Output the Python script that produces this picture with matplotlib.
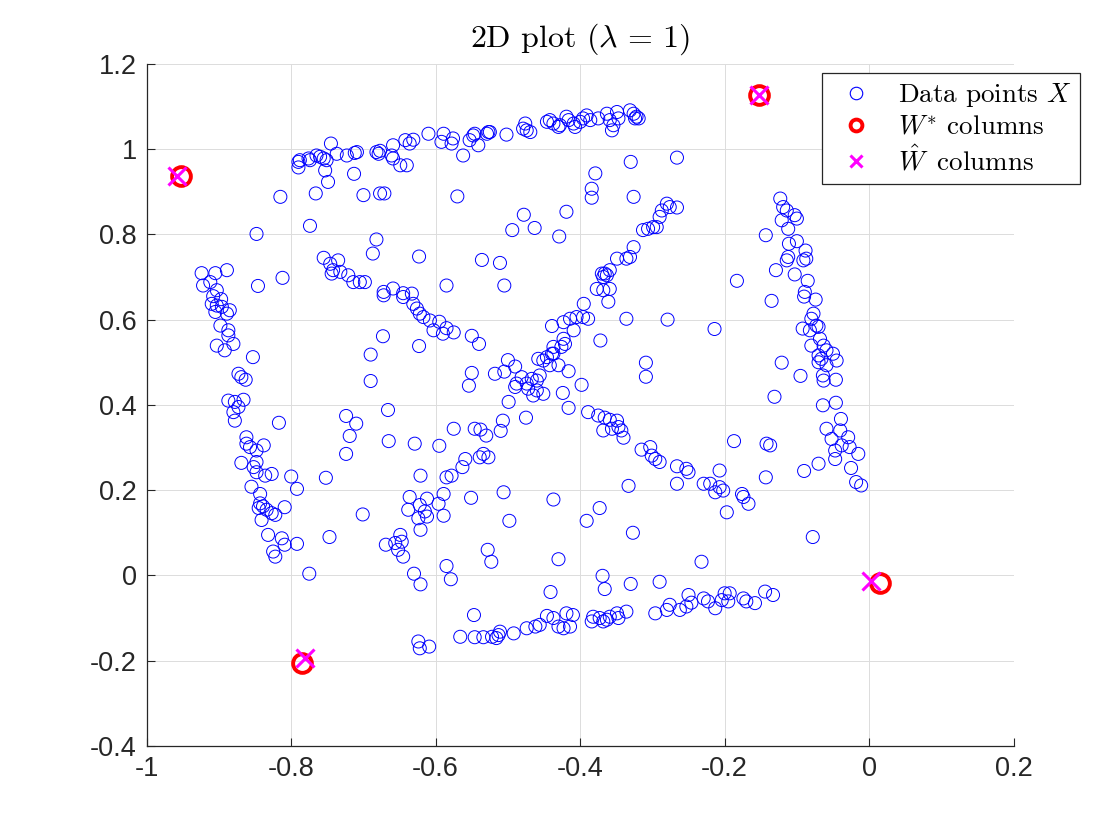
import matplotlib
matplotlib.use("Agg")
import matplotlib.pyplot as plt
from matplotlib.lines import Line2D
from matplotlib.ticker import FuncFormatter, MultipleLocator
import numpy as np

# data points X, grouped by region
top_edge = [
    (-0.61, 1.036), (-0.642, 1.021), (-0.636, 1.013), (-0.631, 1.022), (-0.659, 1.009),
    (-0.682, 0.993), (-0.677, 0.996), (-0.679, 0.989), (-0.661, 0.985), (-0.659, 0.978),
    (-0.649, 0.962), (-0.64, 0.962), (-0.709, 0.993), (-0.712, 0.991), (-0.723, 0.985),
    (-0.737, 0.989), (-0.745, 1.013), (-0.79, 0.97), (-0.788, 0.974), (-0.79, 0.957),
    (-0.776, 0.978), (-0.774, 0.974), (-0.765, 0.985), (-0.76, 0.982), (-0.755, 0.978),
    (-0.751, 0.974), (-0.753, 0.95), (-0.749, 0.923),
    (-0.589, 1.036), (-0.592, 1.017), (-0.576, 1.025), (-0.578, 1.013), (-0.562, 0.985),
    (-0.553, 1.021), (-0.546, 1.036), (-0.541, 1.009), (-0.548, 1.032), (-0.529, 1.036),
    (-0.525, 1.04), (-0.527, 1.04), (-0.502, 1.034), (-0.476, 1.06), (-0.479, 1.048),
    (-0.474, 1.044), (-0.469, 1.04), (-0.446, 1.064), (-0.442, 1.068), (-0.437, 1.06),
    (-0.428, 1.056), (-0.43, 1.052), (-0.419, 1.076), (-0.416, 1.068), (-0.409, 1.06),
    (-0.407, 1.052), (-0.4, 1.064), (-0.396, 1.072), (-0.391, 1.079), (-0.386, 1.068),
    (-0.375, 1.072), (-0.363, 1.083), (-0.359, 1.068), (-0.354, 1.056), (-0.356, 1.044),
    (-0.349, 1.087), (-0.347, 1.072), (-0.331, 1.091), (-0.326, 1.083), (-0.322, 1.076),
    (-0.324, 1.072), (-0.319, 1.072),
]

left_edge = [
    (-0.924, 0.709), (-0.905, 0.709), (-0.889, 0.716), (-0.922, 0.68), (-0.912, 0.688),
    (-0.903, 0.669), (-0.908, 0.655), (-0.897, 0.648), (-0.846, 0.679), (-0.812, 0.698),
    (-0.903, 0.633), (-0.91, 0.637), (-0.896, 0.63), (-0.885, 0.622), (-0.889, 0.614),
    (-0.905, 0.618), (-0.898, 0.586), (-0.887, 0.575), (-0.887, 0.563), (-0.88, 0.543),
    (-0.903, 0.539), (-0.892, 0.528), (-0.853, 0.512), (-0.873, 0.473), (-0.869, 0.465),
    (-0.863, 0.459), (-0.887, 0.41), (-0.878, 0.407), (-0.866, 0.412), (-0.873, 0.395),
    (-0.88, 0.383), (-0.878, 0.363), (-0.862, 0.324), (-0.862, 0.309), (-0.857, 0.301),
    (-0.838, 0.305), (-0.848, 0.293), (-0.869, 0.264), (-0.848, 0.266), (-0.852, 0.254),
    (-0.848, 0.242), (-0.827, 0.238), (-0.836, 0.234), (-0.855, 0.208), (-0.843, 0.191),
    (-0.843, 0.169), (-0.839, 0.162), (-0.845, 0.158), (-0.834, 0.154), (-0.827, 0.146),
    (-0.809, 0.16), (-0.822, 0.142), (-0.841, 0.13), (-0.832, 0.095), (-0.813, 0.087),
    (-0.809, 0.072), (-0.792, 0.074), (-0.825, 0.056), (-0.822, 0.044),
]

inner_left = [
    (-0.815, 0.888), (-0.766, 0.896), (-0.713, 0.942), (-0.7, 0.892), (-0.677, 0.896),
    (-0.671, 0.896), (-0.774, 0.82), (-0.848, 0.801), (-0.682, 0.788), (-0.687, 0.755),
    (-0.623, 0.748), (-0.817, 0.358), (-0.8, 0.232), (-0.792, 0.203), (-0.752, 0.229),
    (-0.724, 0.285), (-0.724, 0.374), (-0.71, 0.356), (-0.719, 0.327), (-0.69, 0.518),
    (-0.673, 0.561), (-0.69, 0.456), (-0.666, 0.388), (-0.665, 0.315), (-0.629, 0.309),
    (-0.623, 0.538), (-0.621, 0.234), (-0.636, 0.184), (-0.612, 0.18), (-0.701, 0.143),
    (-0.747, 0.09), (-0.775, 0.004), (-0.63, 0.004), (-0.621, -0.021),
    (-0.669, 0.072), (-0.656, 0.076), (-0.649, 0.095), (-0.647, 0.079), (-0.652, 0.06),
    (-0.645, 0.044), (-0.638, 0.154), (-0.622, 0.165), (-0.615, 0.15), (-0.624, 0.134),
    (-0.612, 0.138), (-0.621, 0.107),
]

diag_down = [
    (-0.755, 0.745), (-0.735, 0.739), (-0.746, 0.731), (-0.742, 0.716), (-0.744, 0.708),
    (-0.732, 0.712), (-0.721, 0.704), (-0.714, 0.688), (-0.705, 0.688), (-0.698, 0.688),
    (-0.672, 0.665), (-0.659, 0.673), (-0.645, 0.662), (-0.633, 0.661), (-0.672, 0.657),
    (-0.645, 0.653), (-0.631, 0.637), (-0.626, 0.626), (-0.622, 0.614), (-0.617, 0.606),
    (-0.608, 0.598), (-0.603, 0.575), (-0.595, 0.595), (-0.585, 0.58), (-0.575, 0.57),
    (-0.59, 0.567), (-0.55, 0.562), (-0.54, 0.543), (-0.5, 0.505), (-0.49, 0.49),
    (-0.505, 0.478), (-0.518, 0.473),
    (-0.389, 0.383), (-0.375, 0.375), (-0.366, 0.37), (-0.359, 0.365), (-0.349, 0.363),
    (-0.368, 0.34), (-0.356, 0.344), (-0.347, 0.348), (-0.343, 0.34), (-0.34, 0.323),
    (-0.315, 0.295), (-0.303, 0.301), (-0.301, 0.281), (-0.296, 0.273), (-0.29, 0.266),
    (-0.266, 0.256), (-0.253, 0.25), (-0.25, 0.242), (-0.229, 0.215), (-0.22, 0.215),
    (-0.213, 0.195), (-0.207, 0.207), (-0.202, 0.199), (-0.207, 0.246), (-0.197, 0.148),
    (-0.176, 0.191), (-0.174, 0.184), (-0.167, 0.168),
]

middle = [
    (-0.458, 0.508), (-0.451, 0.504), (-0.446, 0.512), (-0.437, 0.52), (-0.442, 0.493),
    (-0.43, 0.493), (-0.416, 0.479), (-0.481, 0.465), (-0.488, 0.45), (-0.49, 0.442),
    (-0.474, 0.45), (-0.467, 0.461), (-0.46, 0.457), (-0.456, 0.469), (-0.472, 0.438),
    (-0.46, 0.434), (-0.465, 0.422), (-0.451, 0.426), (-0.424, 0.428), (-0.398, 0.447),
    (-0.416, 0.393), (-0.499, 0.407), (-0.475, 0.37), (-0.507, 0.363), (-0.51, 0.339),
    (-0.55, 0.475), (-0.554, 0.445), (-0.575, 0.344), (-0.546, 0.344), (-0.538, 0.342),
    (-0.53, 0.328), (-0.595, 0.304), (-0.559, 0.273), (-0.563, 0.254), (-0.539, 0.277),
    (-0.527, 0.277), (-0.534, 0.285), (-0.585, 0.23), (-0.578, 0.234), (-0.589, 0.191),
    (-0.596, 0.168), (-0.589, 0.14), (-0.551, 0.182), (-0.506, 0.195), (-0.437, 0.178),
    (-0.373, 0.158), (-0.391, 0.128), (-0.498, 0.128), (-0.333, 0.21), (-0.266, 0.215),
]

diag_up = [
    (-0.395, 0.637), (-0.361, 0.642), (-0.439, 0.585), (-0.423, 0.594), (-0.414, 0.602),
    (-0.405, 0.606), (-0.396, 0.606), (-0.389, 0.602), (-0.409, 0.575), (-0.336, 0.602),
    (-0.279, 0.6), (-0.214, 0.578), (-0.372, 0.551), (-0.423, 0.555), (-0.421, 0.543),
    (-0.426, 0.536), (-0.437, 0.536), (-0.439, 0.52), (-0.309, 0.499), (-0.309, 0.466),
    (-0.377, 0.672), (-0.368, 0.669), (-0.359, 0.672), (-0.359, 0.716), (-0.366, 0.708),
    (-0.368, 0.7), (-0.37, 0.708), (-0.363, 0.704), (-0.326, 0.77), (-0.331, 0.747),
    (-0.336, 0.743), (-0.349, 0.743), (-0.313, 0.81), (-0.306, 0.813), (-0.299, 0.817),
    (-0.294, 0.817), (-0.29, 0.841), (-0.287, 0.856), (-0.28, 0.872), (-0.276, 0.864),
    (-0.266, 0.863),
]

inner_top = [
    (-0.57, 0.889), (-0.478, 0.846), (-0.494, 0.81), (-0.463, 0.815), (-0.429, 0.795),
    (-0.419, 0.853), (-0.379, 0.943), (-0.384, 0.907), (-0.384, 0.886), (-0.33, 0.97),
    (-0.326, 0.888), (-0.266, 0.98), (-0.536, 0.74), (-0.511, 0.733), (-0.585, 0.68),
    (-0.505, 0.68),
]

right_edge = [
    (-0.123, 0.884), (-0.119, 0.864), (-0.114, 0.856), (-0.103, 0.845), (-0.1, 0.837),
    (-0.121, 0.833), (-0.112, 0.813), (-0.143, 0.798), (-0.111, 0.778), (-0.1, 0.784),
    (-0.088, 0.762), (-0.087, 0.743), (-0.091, 0.739), (-0.112, 0.747), (-0.114, 0.739),
    (-0.129, 0.716), (-0.103, 0.706), (-0.085, 0.691), (-0.183, 0.691), (-0.089, 0.665),
    (-0.135, 0.644), (-0.09, 0.654), (-0.074, 0.647), (-0.077, 0.614), (-0.08, 0.602),
    (-0.073, 0.586), (-0.092, 0.579), (-0.082, 0.575), (-0.07, 0.583), (-0.068, 0.555),
    (-0.08, 0.539), (-0.063, 0.539), (-0.059, 0.528), (-0.05, 0.52), (-0.07, 0.516),
    (-0.066, 0.508), (-0.045, 0.504), (-0.07, 0.5), (-0.059, 0.493), (-0.121, 0.499),
    (-0.095, 0.468), (-0.064, 0.469), (-0.063, 0.457), (-0.046, 0.459), (-0.131, 0.419),
    (-0.064, 0.399), (-0.046, 0.405), (-0.039, 0.367), (-0.059, 0.344), (-0.04, 0.34),
    (-0.052, 0.32), (-0.029, 0.324), (-0.038, 0.305), (-0.027, 0.301), (-0.047, 0.293),
    (-0.015, 0.285), (-0.047, 0.273), (-0.025, 0.252), (-0.018, 0.219), (-0.011, 0.211),
    (-0.07, 0.262), (-0.09, 0.245), (-0.143, 0.23), (-0.142, 0.309), (-0.137, 0.305),
    (-0.187, 0.315),
]

bottom_edge = [
    (-0.624, -0.155), (-0.622, -0.171), (-0.609, -0.167),
    (-0.528, 0.06), (-0.523, 0.032), (-0.585, 0.022), (-0.579, -0.009), (-0.43, 0.038),
    (-0.441, -0.039), (-0.547, -0.093), (-0.369, -0.001), (-0.366, -0.032), (-0.33, -0.02),
    (-0.29, -0.015), (-0.232, 0.032), (-0.327, 0.1), (-0.078, 0.09),
    (-0.566, -0.144), (-0.546, -0.145), (-0.534, -0.145), (-0.522, -0.144), (-0.513, -0.14),
    (-0.511, -0.132), (-0.516, -0.147), (-0.492, -0.136), (-0.474, -0.124), (-0.462, -0.12),
    (-0.456, -0.116), (-0.446, -0.095), (-0.437, -0.1), (-0.43, -0.12), (-0.423, -0.124),
    (-0.414, -0.12), (-0.419, -0.089), (-0.41, -0.093), (-0.382, -0.097), (-0.373, -0.1),
    (-0.363, -0.104), (-0.359, -0.097), (-0.347, -0.1), (-0.349, -0.089), (-0.336, -0.085),
    (-0.384, -0.108), (-0.368, -0.108), (-0.296, -0.089), (-0.28, -0.081), (-0.276, -0.069),
    (-0.262, -0.081), (-0.253, -0.073), (-0.25, -0.046), (-0.246, -0.064), (-0.229, -0.054),
    (-0.223, -0.061), (-0.213, -0.077), (-0.204, -0.058), (-0.2, -0.042), (-0.193, -0.042),
    (-0.195, -0.061), (-0.174, -0.054), (-0.17, -0.061), (-0.158, -0.065), (-0.144, -0.038),
    (-0.133, -0.046),
]

# columns of W* and of the estimate W hat
w_star_x = [-0.953, -0.153, 0.015, -0.785]
w_star_y = [0.937, 1.126, -0.017, -0.206]
w_hat_x = [-0.958, -0.152, 0.003, -0.781]
w_hat_y = [0.938, 1.126, -0.013, -0.194]

points = np.array(top_edge + left_edge + inner_left + diag_down + middle
                  + diag_up + inner_top + right_edge + bottom_edge)

plt.rcParams['mathtext.fontset'] = 'cm'
plt.rcParams['axes.unicode_minus'] = False

fig = plt.figure(figsize=(11.2, 8.4), dpi=100)
ax = fig.add_axes([0.131, 0.112, 0.774, 0.812])

ax.scatter(points[:, 0], points[:, 1], s=88, facecolors='none',
           edgecolors=(0, 0, 1), linewidths=0.7, zorder=3)
ax.plot(w_star_x, w_star_y, 'o', ls='none', ms=13.5, mfc='none',
        mec=(1, 0, 0), mew=2.8, zorder=4)
ax.plot(w_hat_x, w_hat_y, 'x', ls='none', ms=13, mec=(1, 0, 1),
        mew=2.2, zorder=5)

ax.set_xlim(-1, 0.2)
ax.set_ylim(-0.4, 1.2)
ax.xaxis.set_major_locator(MultipleLocator(0.2))
ax.yaxis.set_major_locator(MultipleLocator(0.2))
fmt = FuncFormatter(lambda v, p: '%g' % round(v, 2))
ax.xaxis.set_major_formatter(fmt)
ax.yaxis.set_major_formatter(fmt)

ax.grid(True, color='#dcdcdc', linewidth=0.7)
ax.set_axisbelow(True)
for side in ['top', 'right']:
    ax.spines[side].set_visible(False)
for side in ['left', 'bottom']:
    ax.spines[side].set_color('#262626')
    ax.spines[side].set_linewidth(0.9)
ax.tick_params(direction='in', length=6, width=0.8, color='#262626',
               labelcolor='#262626', labelsize=19.5, pad=7)
for lab in ax.get_xticklabels() + ax.get_yticklabels():
    lab.set_family('Liberation Sans')

ax.set_title(r'2D plot ($\lambda\,=\,1$)', family='cmr10', fontsize=23, pad=12)

handles = [
    Line2D([], [], ls='none', marker='o', ms=9, mfc='none', mec=(0, 0, 1), mew=0.8),
    Line2D([], [], ls='none', marker='o', ms=8.5, mfc='none', mec=(1, 0, 0), mew=2.8),
    Line2D([], [], ls='none', marker='x', ms=8, mec=(1, 0, 1), mew=2.2),
]
labels = [r'Data points $X$', r'$W^{*}$ columns', r'$\hat{W}\,$ columns']
leg = fig.legend(handles, labels, loc='upper right',
                 bbox_to_anchor=(1080 / 1120, 1 - 73 / 840),
                 prop={'family': 'cmr10', 'size': 19.5}, frameon=True,
                 fancybox=False, edgecolor='#262626', framealpha=1,
                 borderpad=0.3, labelspacing=0.22, handletextpad=0.6,
                 handlelength=1.9, borderaxespad=0)
leg.get_frame().set_linewidth(0.9)

fig.savefig('out.png', dpi=100)
